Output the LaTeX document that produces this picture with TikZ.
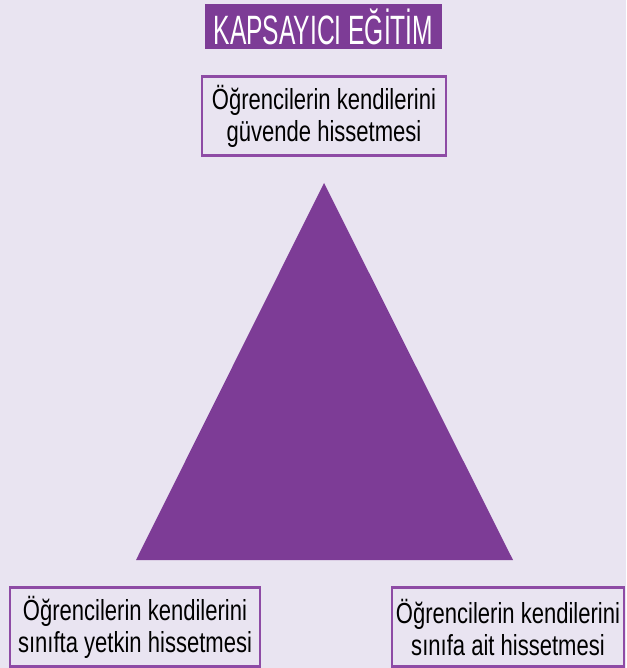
\documentclass[tikz,border=0pt]{standalone}
\usepackage{fontspec}
\setmainfont{Liberation Sans}[FakeStretch=0.76]
\newfontfamily\titlefont{Liberation Sans}[FakeStretch=0.6]
\usetikzlibrary{positioning}
\definecolor{zemin}{RGB}{233,228,241}
\definecolor{mor}{RGB}{125,60,150}
\definecolor{morcizgi}{RGB}{142,75,165}

\begin{document}
\begin{tikzpicture}[
  x=1pt,y=-1pt,
  kutu/.style={rectangle,draw=morcizgi,line width=2.5pt,align=center,inner sep=0pt,minimum height=79pt,font=\fontsize{29}{32}\selectfont,text=black},
  baslik/.style={rectangle,fill=mor,text=white,inner sep=0pt,minimum width=237pt,minimum height=45pt,font=\titlefont\fontsize{41}{41}\selectfont}
]
\fill[zemin] (0,0) rectangle (626,668);
\useasboundingbox (0,0) rectangle (626,668);

\node[baslik] (baslik) at (323.5,26.5) {KAPSAYICI EĞİTİM};
\node[kutu,minimum width=244pt] (guven) at (324,116) {Öğrencilerin kendilerini\\güvende hissetmesi};
\node[kutu,minimum width=250pt] (yetkin) at (135,627) {Öğrencilerin kendilerini\\sınıfta yetkin hissetmesi};
\node[kutu,minimum width=232pt] (ait) at (508,627) {Öğrencilerin kendilerini\\sınıfa ait hissetmesi};

% ucgen
\coordinate (tepe) at (324,183);
\coordinate (sol) at (136,560);
\coordinate (sag) at (513,560);
\fill[mor] (tepe) -- (sol) -- (sag) -- cycle;
\end{tikzpicture}
\end{document}
